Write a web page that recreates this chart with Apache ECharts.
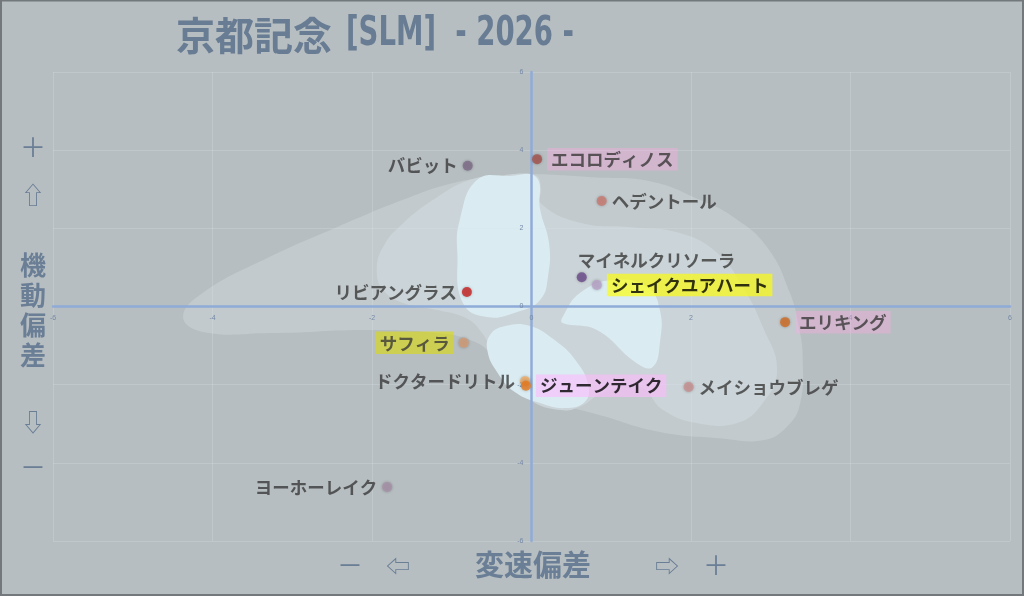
<!DOCTYPE html>
<html>
<head>
<meta charset="utf-8">
<script src="https://cdn.jsdelivr.net/npm/echarts@6/dist/echarts.min.js"></script>
<style>
html,body{margin:0;padding:0;background:#b7bec1;}
#c{width:1024px;height:596px;}
</style>
</head>
<body>
<div id="c"></div>
<script>
// ---- data ----
var horses = ['バビット','エコロディノス','ヘデントール','マイネルクリソーラ','シェイクユアハート','リビアングラス','エリキング','サフィラ','ドクタードリトル','ジューンテイク','メイショウブレゲ','ヨーホーレイク'];
var speedDev = [-0.80, 0.07, 0.88, 0.63, 0.82, -0.81, 3.18, -0.85, -0.08, -0.07, 1.97, -1.81];
var mobilityDev = [3.60, 3.77, 2.70, 0.75, 0.55, 0.37, -0.40, -0.93, -1.91, -2.03, -2.06, -4.62];
var xTicks = [-6, -4, -2, 0, 2, 4, 6];
var yTicks = [-6, -4, -2, 0, 2, 4, 6];
var titleMain = '京都記念';
var titleSub = '[SLM]  - 2026 -';
var xName = '変速偏差';
var yName = '機動偏差';

// density contour outlines (data coordinates)
var densityOuter = [[-4.37,-0.27],[-4.12,0.35],[-3.28,1.27],[-2.44,2.03],[-1.61,2.73],[-0.98,3.16],[-0.36,3.36],[-0.02,3.39],[0.75,3.31],[1.50,3.20],[2.11,2.73],[2.53,2.29],[2.95,1.53],[3.24,0.35],[3.36,-0.60],[3.40,-1.29],[3.37,-2.47],[3.20,-3.08],[2.90,-3.42],[2.36,-3.37],[1.61,-3.21],[0.86,-2.78],[0.36,-2.52],[-0.02,-2.32],[-0.33,-1.83],[-0.52,-1.19],[-0.77,-0.86],[-1.18,-0.68],[-2.03,-0.60],[-3.28,-0.68],[-4.12,-0.65]];
var densityMid = [[-1.94,0.93],[-1.86,1.53],[-1.61,2.13],[-1.18,2.80],[-0.77,3.24],[-0.40,3.35],[0.05,3.35],[0.12,3.0],[0.11,2.65],[0.61,2.14],[1.24,2.03],[1.86,1.88],[2.33,1.37],[2.65,0.50],[2.90,-0.52],[3.08,-1.62],[2.90,-2.47],[2.58,-2.98],[2.07,-2.98],[1.65,-2.65],[1.36,-2.06],[0.90,-2.20],[0.62,-2.55],[0.36,-2.65],[-0.02,-2.39],[-0.27,-1.88],[-0.46,-1.24],[-0.65,-0.60],[-0.83,-0.29],[-1.18,-0.09],[-1.61,0.09],[-1.86,0.42]];
var densityCoreA = [[-0.68,3.24],[-0.27,3.34],[0.06,3.31],[0.11,2.47],[0.22,1.62],[0.21,0.81],[0.11,0.17],[-0.18,-0.14],[-0.56,-0.27],[-0.86,0.09],[-0.93,1.37],[-0.90,2.21]];
var densityCoreB = [[0.39,-0.27],[0.61,0.35],[1.02,0.68],[1.45,0.50],[1.61,-0.09],[1.61,-0.93],[1.52,-1.55],[1.32,-1.45],[0.82,-0.60],[0.39,-0.42]];
var densityCoreC = [[-0.52,-0.73],[-0.33,-0.50],[-0.02,-0.50],[0.29,-0.86],[0.55,-1.37],[0.71,-2.01],[0.67,-2.44],[0.42,-2.60],[0.11,-2.47],[-0.21,-2.19],[-0.43,-1.68],[-0.55,-1.16]];

// ---- styles ----
var pointColors = {
  'バビット':'#7d6c88','エコロディノス':'#a5524c','ヘデントール':'#cc7a72','マイネルクリソーラ':'#6b4b8c',
  'シェイクユアハート':'#b9a2c9','リビアングラス':'#c92222','エリキング':'#d26b22','サフィラ':'#d49c74',
  'ドクタードリトル':'#f2aa62','ジューンテイク':'#ea7b1e','メイショウブレゲ':'#c99191','ヨーホーレイク':'#a891a9'
};
var pinkBg = 'rgba(255,170,230,0.45)';
var labelStyles = {
  'バビット':{position:'left'},
  'エコロディノス':{position:'right',backgroundColor:pinkBg},
  'ヘデントール':{position:'right'},
  'マイネルクリソーラ':{position:'top',align:'left',offset:[-4,2]},
  'シェイクユアハート':{position:'right',backgroundColor:'rgba(255,255,0,0.82)',color:'#000'},
  'リビアングラス':{position:'left'},
  'エリキング':{position:'right',backgroundColor:pinkBg},
  'サフィラ':{position:'left',backgroundColor:'rgba(222,220,0,0.72)'},
  'ドクタードリトル':{position:'left'},
  'ジューンテイク':{position:'right',backgroundColor:'rgba(255,185,255,0.72)',color:'#000'},
  'メイショウブレゲ':{position:'right'},
  'ヨーホーレイク':{position:'left'}
};

var W = 1024, H = 596;
var GRID = { left: 53, right: 14, top: 72, bottom: 55 };
var plotW = W - GRID.left - GRID.right, plotH = H - GRID.top - GRID.bottom;
// move axes to the origin
var yAxisOffset = -plotW * (0 - (-6)) / 12;
var xAxisOffset = -plotH * (0 - (-6)) / 12;

// condensed title: measure the latin part and squeeze it
var ctx = document.createElement('canvas').getContext('2d');
var subFont = "bold 40px 'DejaVu Sans'";
ctx.font = subFont;
var subScale = 228 / ctx.measureText(titleSub).width;

var chart = echarts.init(document.getElementById('c'));

function blobSeries(points, fill) {
  return {
    type: 'custom',
    silent: true,
    z: 1,
    clip: true,
    data: [[0, 0]],
    renderItem: function (params, api) {
      return {
        type: 'polygon',
        shape: { points: points.map(function (p) { return api.coord(p); }), smooth: 0.45 },
        style: { fill: fill }
      };
    }
  };
}

var scatterData = horses.map(function (n, i) {
  var ls = labelStyles[n];
  var lab = {
    show: true,
    formatter: n,
    position: ls.position,
    distance: 5,
    fontSize: 17.5,
    fontFamily: "'Noto Sans CJK JP', sans-serif",
    fontWeight: 'bold',
    color: ls.color || '#3a3a3a',
    padding: ls.backgroundColor ? [3, 4, 2, 4] : 0
  };
  if (ls.backgroundColor) lab.backgroundColor = ls.backgroundColor;
  if (ls.align) lab.align = ls.align;
  if (ls.offset) lab.offset = ls.offset;
  return {
    name: n,
    value: [speedDev[i], mobilityDev[i]],
    itemStyle: { color: pointColors[n] },
    label: lab
  };
});

function axisCfg(ticks, offset) {
  return {
    type: 'value',
    min: -6, max: 6, interval: 2,
    offset: offset,
    z: 3,
    axisLine: { onZero: false, lineStyle: { color: '#8fabd8', width: 2.5 } },
    axisTick: { show: false },
    splitLine: { show: true, lineStyle: { color: 'rgba(215,225,232,0.3)', width: 1 } },
    axisLabel: { fontSize: 7, color: '#7488a6', margin: 8, showMinLabel: true, showMaxLabel: true,
      hideOverlap: false,
      formatter: function (v) { return ticks.indexOf(v) >= 0 ? String(v) : ''; } }
  };
}

var nameColor = '#6a7e96';
function t(x, y, text, font, extra) {
  var s = { text: text, fill: nameColor, font: font, textAlign: 'center', textVerticalAlign: 'middle' };
  if (extra) Object.assign(s, extra);
  return { type: 'text', x: x, y: y, z: 50, silent: true, style: s };
}

var option = {
  backgroundColor: '#b7bec1',
  animation: false,
  grid: { left: GRID.left, right: GRID.right, top: GRID.top, bottom: GRID.bottom, containLabel: false },
  xAxis: axisCfg(xTicks, xAxisOffset),
  yAxis: axisCfg(yTicks, yAxisOffset),
  series: [
    blobSeries(densityOuter, '#c3cacd'),
    blobSeries(densityMid, '#cbd4d8'),
    blobSeries(densityCoreA, '#daecf2'),
    blobSeries(densityCoreB, '#daecf2'),
    blobSeries(densityCoreC, '#daecf2'),
    {
      type: 'scatter',
      z: 5,
      symbolSize: 10,
      itemStyle: { shadowBlur: 3, shadowColor: 'rgba(0,0,0,0.3)' },
      data: scatterData
    }
  ],
  graphic: [
    { type: 'rect', silent: true, z: 100, shape: { x: 1, y: 0.5, width: 1022, height: 594.5 },
      style: { fill: 'none', stroke: '#72787b', lineWidth: 2 } },
    { type: 'text', x: 176, y: 35, z: 50, silent: true,
      style: { text: titleMain, fill: '#687c94', font: "bold 39px 'Noto Sans CJK JP'", textVerticalAlign: 'middle' } },
    { type: 'text', x: 346, y: 35, z: 50, silent: true, scaleX: subScale,
      style: { text: titleSub, fill: '#687c94', font: subFont, textVerticalAlign: 'middle' } },
    t(33, 147, '＋', "26px 'Noto Sans CJK JP'"),
    t(33, 195, '⇧', "24px 'Noto Sans CJK JP'"),
    t(33, 310, yName.split('').join('\n'), "bold 26px 'Noto Sans CJK JP'", { lineHeight: 30 }),
    t(33, 422, '⇩', "24px 'Noto Sans CJK JP'"),
    t(33, 467, '－', "26px 'Noto Sans CJK JP'"),
    t(350, 565, '－', "26px 'Noto Sans CJK JP'"),
    t(398, 566, '⇦', "24px 'Noto Sans CJK JP'"),
    t(533, 565, xName, "bold 29px 'Noto Sans CJK JP'"),
    t(667, 566, '⇨', "24px 'Noto Sans CJK JP'"),
    t(716, 565, '＋', "26px 'Noto Sans CJK JP'")
  ]
};
chart.setOption(option);
</script>
</body>
</html>
